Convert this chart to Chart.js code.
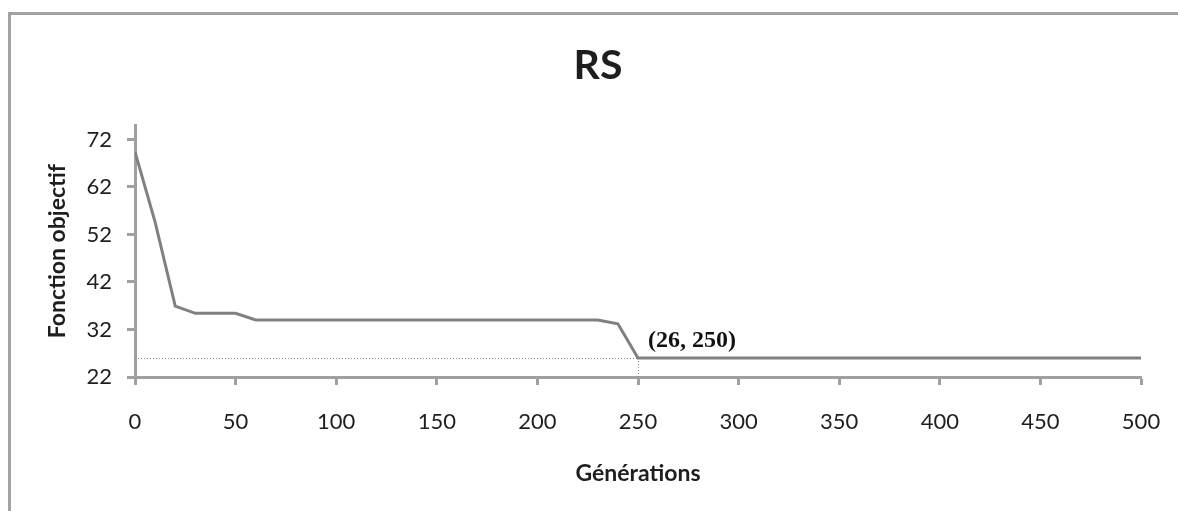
<!DOCTYPE html>
<html>
<head>
<meta charset="utf-8">
<script src="https://cdn.jsdelivr.net/npm/chart.js@4/dist/chart.umd.min.js"></script>
<style>
  html, body { margin: 0; padding: 0; background: #fff; overflow: hidden; width: 1178px; height: 511px; }
  #frame { position: absolute; left: 8px; top: 12px; width: 1300px; height: 600px;
           border-top: 3px solid #a3a3a3; border-left: 3px solid #a3a3a3; }
  #c { position: absolute; left: 0; top: 0; }
</style>
</head>
<body>
<div id="frame"></div>
<canvas id="c" width="1196" height="511"></canvas>
<script>
// Objective function value recorded every 10 generations
const generations = [
  0, 10, 20, 30, 40, 50, 60, 70, 80, 90,
  100, 110, 120, 130, 140, 150, 160, 170, 180, 190,
  200, 210, 220, 230, 240, 250, 260, 270, 280, 290,
  300, 310, 320, 330, 340, 350, 360, 370, 380, 390,
  400, 410, 420, 430, 440, 450, 460, 470, 480, 490,
  500
];
const fitness = [
  69.4, 54.6, 36.9, 35.4, 35.4, 35.4, 34, 34, 34, 34,
  34, 34, 34, 34, 34, 34, 34, 34, 34, 34,
  34, 34, 34, 34, 33.2, 26, 26, 26, 26, 26,
  26, 26, 26, 26, 26, 26, 26, 26, 26, 26,
  26, 26, 26, 26, 26, 26, 26, 26, 26, 26,
  26
];
const yTicks = [22, 32, 42, 52, 62, 72];
const xTicks = [0, 50, 100, 150, 200, 250, 300, 350, 400, 450, 500];

// Highlighted convergence point
const markGen = 250;
const markVal = 26;

const AXIS = '#a0a0a0';
const LINE = '#808080';
const TEXT = '#1e1e1e';
const SANS = 'Lato, "Open Sans", sans-serif';

const markerPlugin = {
  id: 'convergenceMarker',
  beforeDatasetsDraw(chart) {
    const { ctx, chartArea, scales } = chart;
    const px = scales.x.getPixelForValue(markGen);
    const py = scales.y.getPixelForValue(markVal);
    ctx.save();
    ctx.strokeStyle = '#8c8c8c';
    ctx.lineWidth = 1;
    ctx.setLineDash([1, 2]);
    ctx.beginPath();
    ctx.moveTo(chartArea.left, Math.round(py) + 0.5);
    ctx.lineTo(px, Math.round(py) + 0.5);
    ctx.moveTo(Math.round(px) + 0.5, py);
    ctx.lineTo(Math.round(px) + 0.5, chartArea.bottom);
    ctx.stroke();
    ctx.restore();
  },
  afterDatasetsDraw(chart) {
    const { ctx, scales } = chart;
    const px = scales.x.getPixelForValue(markGen);
    const py = scales.y.getPixelForValue(markVal);
    ctx.save();
    ctx.fillStyle = '#111';
    ctx.font = 'bold 24px "Liberation Serif", "Times New Roman", serif';
    ctx.textAlign = 'left';
    ctx.textBaseline = 'alphabetic';
    ctx.fillText('(' + markVal + ', ' + markGen + ')', px + 10, py - 11);
    ctx.restore();
  }
};

new Chart(document.getElementById('c'), {
  type: 'line',
  data: {
    datasets: [{
      data: generations.map((g, i) => ({ x: g, y: fitness[i] })),
      borderColor: LINE,
      borderWidth: 3,
      pointRadius: 0,
      tension: 0,
      fill: false
    }]
  },
  options: {
    responsive: false,
    devicePixelRatio: 1,
    animation: false,
    layout: { padding: 0 },
    plugins: {
      legend: { display: false },
      tooltip: { enabled: false },
      title: {
        display: true,
        text: 'RS',
        color: TEXT,
        font: { family: SANS, size: 41, weight: 'bold', lineHeight: 1.2 },
        padding: { top: 41, bottom: 35 }
      }
    },
    scales: {
      x: {
        type: 'linear',
        min: 0,
        max: 500,
        afterFit(scale) { scale.height = 134; },
        afterBuildTicks(scale) { scale.ticks = xTicks.map(v => ({ value: v })); },
        border: { display: true, color: AXIS, width: 3 },
        grid: { drawOnChartArea: false, drawTicks: true, tickLength: 8, tickWidth: 3, tickColor: AXIS, color: AXIS },
        ticks: { color: TEXT, font: { family: SANS, size: 22 }, padding: 24, maxRotation: 0 },
        title: {
          display: true,
          text: 'Générations',
          color: TEXT,
          font: { family: SANS, size: 23, weight: 'bold', lineHeight: 1.2 },
          padding: { top: 24, bottom: 24 }
        }
      },
      y: {
        type: 'linear',
        min: 22,
        max: 75,
        afterFit(scale) { scale.width = 135; },
        afterBuildTicks(scale) { scale.ticks = yTicks.map(v => ({ value: v })); },
        border: { display: true, color: AXIS, width: 3 },
        grid: { drawOnChartArea: false, drawTicks: true, tickLength: 8, tickWidth: 3, tickColor: AXIS, color: AXIS },
        ticks: { color: TEXT, font: { family: SANS, size: 22 }, padding: 15 },
        title: {
          display: true,
          text: 'Fonction objectif',
          color: TEXT,
          font: { family: SANS, size: 23, weight: 'bold', lineHeight: 1.2 },
          padding: { top: 44, bottom: 0 }
        }
      },
      // empty right-hand margin so the plot ends short of the canvas edge
      margin: {
        type: 'linear',
        position: 'right',
        afterFit(scale) { scale.width = 55; },
        border: { display: false },
        grid: { display: false },
        ticks: { display: false },
        title: { display: false }
      }
    }
  },
  plugins: [markerPlugin]
});
</script>
</body>
</html>
